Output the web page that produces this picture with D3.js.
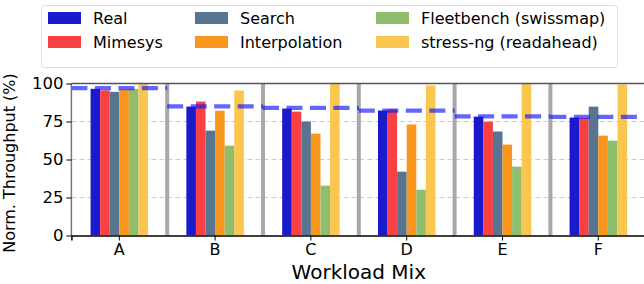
<!DOCTYPE html>
<html><head><meta charset="utf-8">
<script src="https://cdn.jsdelivr.net/npm/d3@7"></script>
<style>body{margin:0;background:#fff}svg{display:block;font-family:"DejaVu Sans",sans-serif}</style>
</head><body><svg id="c" width="644" height="284"></svg>
<script>
const categories = ["A","B","C","D","E","F"];
const seriesNames = ["Real","Mimesys","Search","Interpolation","Fleetbench (swissmap)","stress-ng (readahead)"];
const seriesColors = ["#1a1acc","#f94144","#577590","#f8961e","#90be6d","#f9c74f"];
const realVals   = [96.5, 84.8, 83.5, 82.2, 78.2, 77.6];
const mimesysVals= [95.5, 88.1, 81.5, 82.9, 74.9, 77.3];
const searchVals = [94.5, 69.0, 75.0, 42.0, 68.4, 84.8];
const interpVals = [96.0, 82.1, 67.0, 73.0, 59.8, 65.7];
const fleetVals  = [96.5, 59.1, 32.8, 30.1, 45.3, 62.4];
const stressVals = [100, 95.4, 100, 98.7, 100, 99.3];
const refLine    = [97.0, 85.0, 84.0, 82.2, 78.4, 78.0];
const yTicks = [0,25,50,75,100];
const allSeries = [realVals, mimesysVals, searchVals, interpVals, fleetVals, stressVals];

const svg = d3.select("#c");
const L = 71.4, R = 646.2, T = 83.5, B = 235.5;
const x = d3.scaleBand().domain(categories).range([L,R]).padding(0);
const y = d3.scaleLinear().domain([0,100]).range([B,T]);
const inner = d3.scaleBand().domain(seriesNames).range([0, x.bandwidth()*0.6]);

// grid
svg.append("g").selectAll("line").data([25,50,75]).join("line")
  .attr("x1",L).attr("x2",R).attr("y1",d=>y(d)).attr("y2",d=>y(d))
  .attr("stroke","#cccccc").attr("stroke-width",1).attr("stroke-dasharray","5,3");

// separators
svg.append("g").selectAll("line").data(categories.slice(1)).join("line")
  .attr("x1",d=>x(d)).attr("x2",d=>x(d)).attr("y1",T).attr("y2",B)
  .attr("stroke","#a8a8a8").attr("stroke-width",4);

// bars
svg.append("clipPath").attr("id","pc").append("rect").attr("x",L).attr("y",T).attr("width",R-L).attr("height",B-T);
const bars = svg.append("g").attr("clip-path","url(#pc)");
seriesNames.forEach((s,si)=>{
  bars.append("g").selectAll("rect").data(allSeries[si]).join("rect")
    .attr("x",(d,i)=>x(categories[i]) + x.bandwidth()*0.2 + inner(s))
    .attr("width",inner.bandwidth())
    .attr("y",d=>y(d)).attr("height",d=>y(0)-y(d))
    .attr("fill",seriesColors[si]);
});

// reference dashed lines
svg.append("g").selectAll("line").data(refLine).join("line")
  .attr("x1",(d,i)=>x(categories[i])).attr("x2",(d,i)=>x(categories[i])+x.bandwidth())
  .attr("y1",d=>y(d)).attr("y2",d=>y(d))
  .attr("stroke","rgba(20,20,255,0.66)").attr("stroke-width",4.2).attr("stroke-dasharray","16,7.5");

// spines
svg.append("line").attr("x1",L).attr("x2",R).attr("y1",T).attr("y2",T).attr("stroke","#555").attr("stroke-width",1.5);
svg.append("line").attr("x1",L).attr("x2",L).attr("y1",T).attr("y2",B).attr("stroke","#777").attr("stroke-width",1.5);

// axes
const xa = svg.append("g").attr("transform",`translate(0,${B})`)
  .call(d3.axisBottom(x).tickSize(5).tickPadding(3));
xa.select(".domain").attr("stroke","#000").attr("stroke-width",1.5);
xa.selectAll("text").attr("font-size","16px").attr("font-family","DejaVu Sans").attr("fill","#000");
const ya = svg.append("g").attr("transform",`translate(${L},0)`)
  .call(d3.axisLeft(y).tickValues(yTicks).tickSize(5).tickPadding(3));
ya.select(".domain").remove();
ya.selectAll("text").attr("font-size","16.5px").attr("font-family","DejaVu Sans").attr("fill","#000");

svg.append("text").attr("x",(L+R)/2).attr("y",279).attr("text-anchor","middle")
  .attr("font-size","20px").attr("fill","#000").text("Workload Mix");
svg.append("text").attr("transform",`translate(14.5,163) rotate(-90)`).attr("text-anchor","middle")
  .attr("font-size","16px").attr("fill","#000").text("Norm. Throughput (%)");

// legend
const lg = svg.append("g");
lg.append("rect").attr("x",41.5).attr("y",5.5).attr("width",576).attr("height",62).attr("rx",3)
  .attr("fill","#fff").attr("stroke","#dddddd");
const colX = [48, 195, 376];
seriesNames.forEach((s,i)=>{
  const c = Math.floor(i/2), r = i%2;
  const cy = 18 + r*24;
  lg.append("rect").attr("x",colX[c]).attr("y",cy-6).attr("width",33).attr("height",12).attr("fill",seriesColors[i]);
  lg.append("text").attr("x",colX[c]+45).attr("y",cy+6).attr("font-size","16px").attr("fill","#000").text(s);
});
</script></body></html>
